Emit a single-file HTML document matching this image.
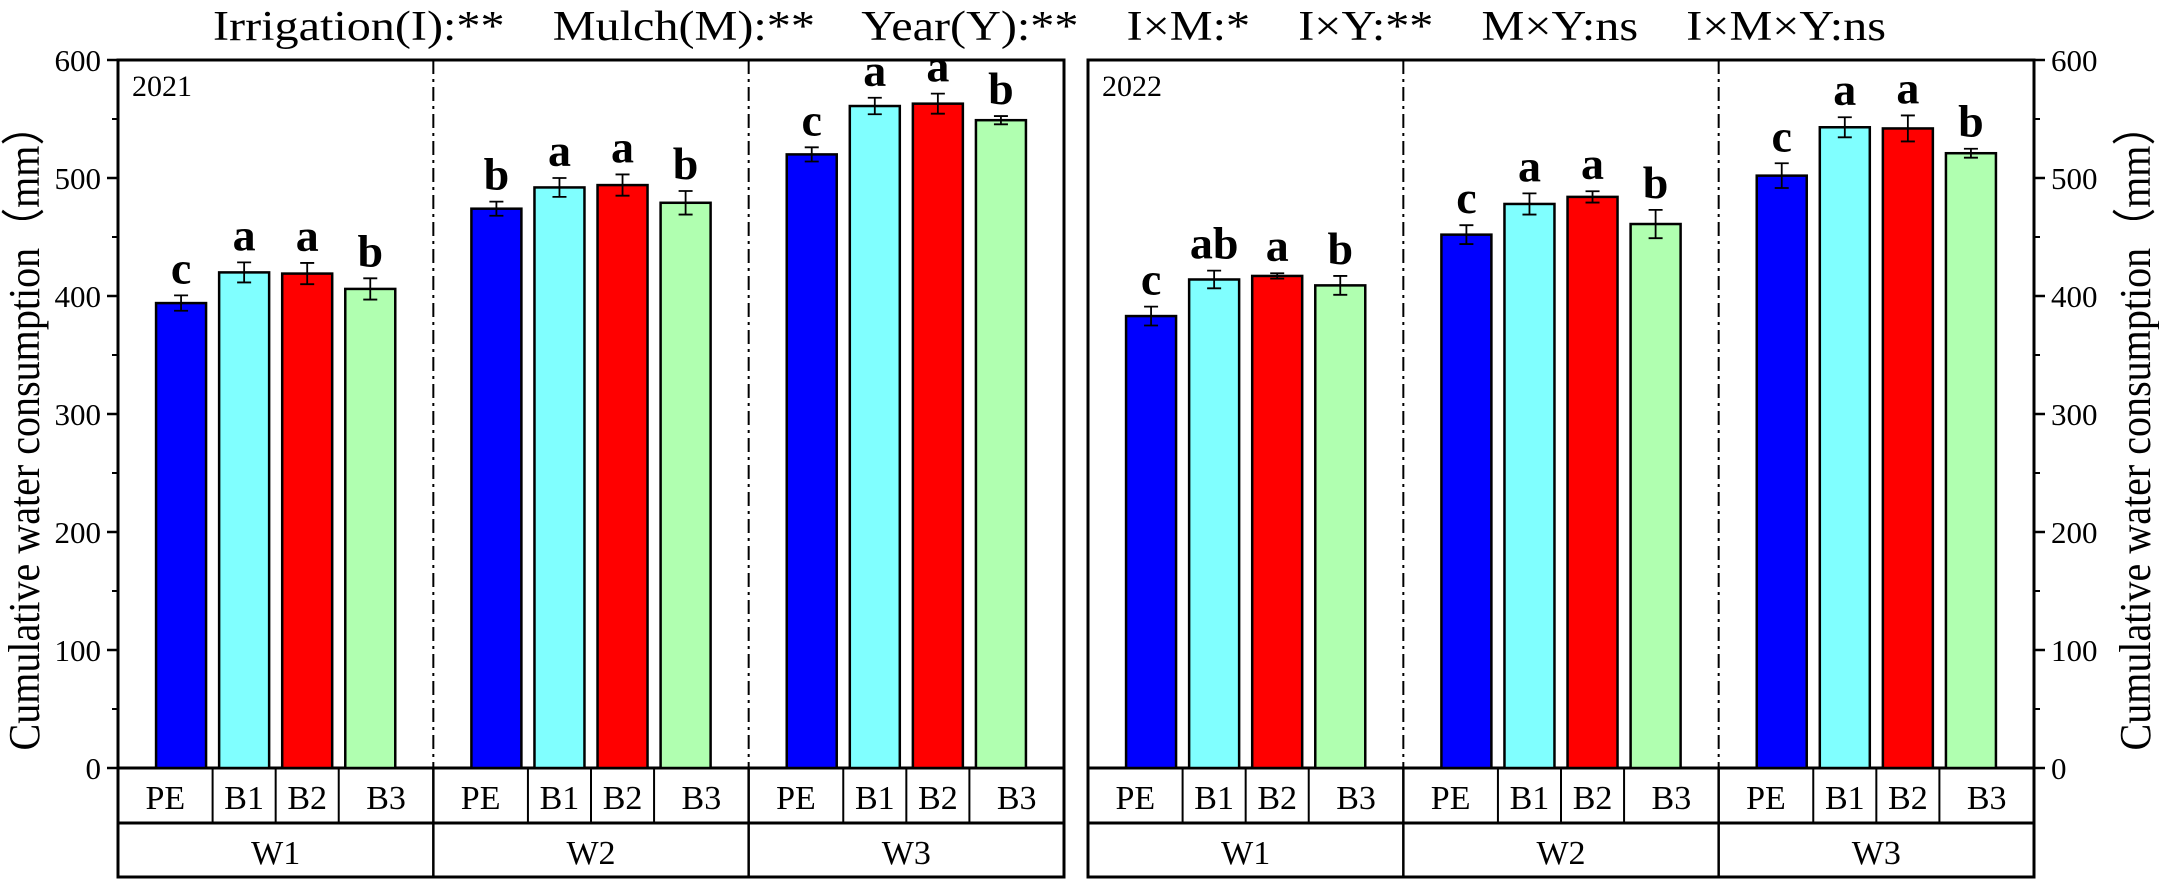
<!DOCTYPE html>
<html><head><meta charset="utf-8"><style>
html,body{margin:0;padding:0;background:#fff;}
svg{display:block;font-family:"Liberation Serif","Times New Roman",serif;}
</style></head><body>
<svg id="chart" width="2159" height="881" viewBox="0 0 2159 881" xmlns="http://www.w3.org/2000/svg">
<text x="213" y="40" font-size="42" xml:space="preserve" style="white-space:pre" textLength="1673" lengthAdjust="spacingAndGlyphs">Irrigation(I):**    Mulch(M):**    Year(Y):**    I×M:*    I×Y:**    M×Y:ns    I×M×Y:ns</text>
<text transform="translate(39,428) rotate(-90)" text-anchor="middle" font-size="44" textLength="645" lengthAdjust="spacingAndGlyphs">Cumulative water consumption（mm）</text>
<text transform="translate(2150,428) rotate(-90)" text-anchor="middle" font-size="44" textLength="645" lengthAdjust="spacingAndGlyphs">Cumulative water consumption（mm）</text>
</svg>
<script>
const years = ["2021","2022"];
const waterLevels = ["W1","W2","W3"];
const treatments = ["PE","B1","B2","B3"];
const yTicks = [0,100,200,300,400,500,600];
const values2021 = [[394,420,419,406],[474,492,494,479],[520,561,563,549]];
const errors2021 = [[6.5,8.5,9,9],[6,8,9,10],[6,7,8.5,3.5]];
const letters2021 = [["c","a","a","b"],["b","a","a","b"],["c","a","a","b"]];
const values2022 = [[383,414,417,409],[452,478,484,461],[502,543,542,521]];
const errors2022 = [[8,7.5,2.3,8],[8,9,4.8,12],[10.5,8.5,11,3.8]];
const letters2022 = [["c","ab","a","b"],["c","a","a","b"],["c","a","a","b"]];
const colors = ["#0000FF","#80FFFF","#FF0000","#B0FFB0"];

const svg = document.getElementById('chart');
const NS = "http://www.w3.org/2000/svg";
const Y0 = 768, YTOP = 60, YMAX = 600;
function yScale(v){ return Y0 - v/YMAX*(Y0-YTOP); }
function mk(tag, attrs){ const e=document.createElementNS(NS,tag); for(const k in attrs) e.setAttribute(k,attrs[k]); svg.appendChild(e); return e; }

const panels = [
  {x0:118, x1:1064, vals:values2021, errs:errors2021, lets:letters2021, axis:'left'},
  {x0:1088, x1:2034, vals:values2022, errs:errors2022, lets:letters2022, axis:'right'}
];

panels.forEach((p,pi)=>{
  const gw = (p.x1-p.x0)/waterLevels.length;
  const slot = gw/5, bw = 50;
  function xCenter(g,t){ return p.x0 + g*gw + (t+1)*slot; }
  const fr = mk('rect',{x:p.x0,y:YTOP,width:p.x1-p.x0,height:Y0-YTOP,fill:'none',stroke:'#000','stroke-width':3});
  
  
  const yl = mk('text',{x:p.x0+14,y:96,'font-size':30});
  yl.textContent = years[pi];
  
  
  for(let g=1; g<waterLevels.length; g++){
    const x = p.x0+g*gw;
    const d = mk('line',{x1:x,y1:YTOP,x2:x,y2:Y0,stroke:'#000','stroke-width':2,'stroke-dasharray':'14,5,3,5'});
    
    
  }
  waterLevels.forEach((w,g)=>{
    treatments.forEach((t,ti)=>{
      const v = p.vals[g][ti], e = p.errs[g][ti], xc = xCenter(g,ti);
      const r = mk('rect',{x:xc-bw/2,y:yScale(v),width:bw,height:Y0-yScale(v),fill:colors[ti],stroke:'#000','stroke-width':2.5});
      
      
      const yt = yScale(v+e), yb = yScale(v-e);
      const eb = mk('path',{d:`M${xc},${yt}V${yb}M${xc-7},${yt}H${xc+7}M${xc-7},${yb}H${xc+7}`,stroke:'#000','stroke-width':1.8,fill:'none'});
      
      
      const lt = mk('text',{x:xc,y:yt-12,'text-anchor':'middle','font-size':46,'font-weight':'bold'});
      lt.textContent = p.lets[g][ti];
      
      
    });
  });
  const tb = mk('path',{d:`M${p.x0},${Y0}V877H${p.x1}V${Y0}M${p.x0},823H${p.x1}`,stroke:'#000','stroke-width':3,fill:'none'});
  
  
  waterLevels.forEach((w,g)=>{
    const gx0 = p.x0+g*gw, gx1 = gx0+gw;
    if(g>0){ const l=mk('line',{x1:gx0,y1:Y0,x2:gx0,y2:877,stroke:'#000','stroke-width':2.5});   }
    const bounds = [gx0];
    for(let t=0;t<treatments.length-1;t++) bounds.push((xCenter(g,t)+xCenter(g,t+1))/2);
    bounds.push(gx1);
    for(let t=1;t<treatments.length;t++){ const l=mk('line',{x1:bounds[t],y1:Y0,x2:bounds[t],y2:823,stroke:'#000','stroke-width':2});   }
    treatments.forEach((t,ti)=>{
      const tx = mk('text',{x:(bounds[ti]+bounds[ti+1])/2,y:809,'text-anchor':'middle','font-size':34});
      tx.textContent = t;
      
      
    });
    const wt = mk('text',{x:(gx0+gx1)/2,y:864,'text-anchor':'middle','font-size':34});
    wt.textContent = w;
    
    
  });
  const ax = p.axis==='left' ? p.x0 : p.x1;
  const dir = p.axis==='left' ? -1 : 1;
  yTicks.forEach(v=>{
    const y = yScale(v);
    const tk = mk('line',{x1:ax,y1:y,x2:ax+dir*11,y2:y,stroke:'#000','stroke-width':2.5});
    
    
    if(v<YMAX){ const ym=yScale(v+50); const mt=mk('line',{x1:ax,y1:ym,x2:ax+dir*6,y2:ym,stroke:'#000','stroke-width':2});   }
    const lb = mk('text',{x:ax+dir*17,y:y+11,'font-size':31,'text-anchor':p.axis==='left'?'end':'start'});
    lb.textContent = v;
    
    
  });
});
</script>
</body></html>
